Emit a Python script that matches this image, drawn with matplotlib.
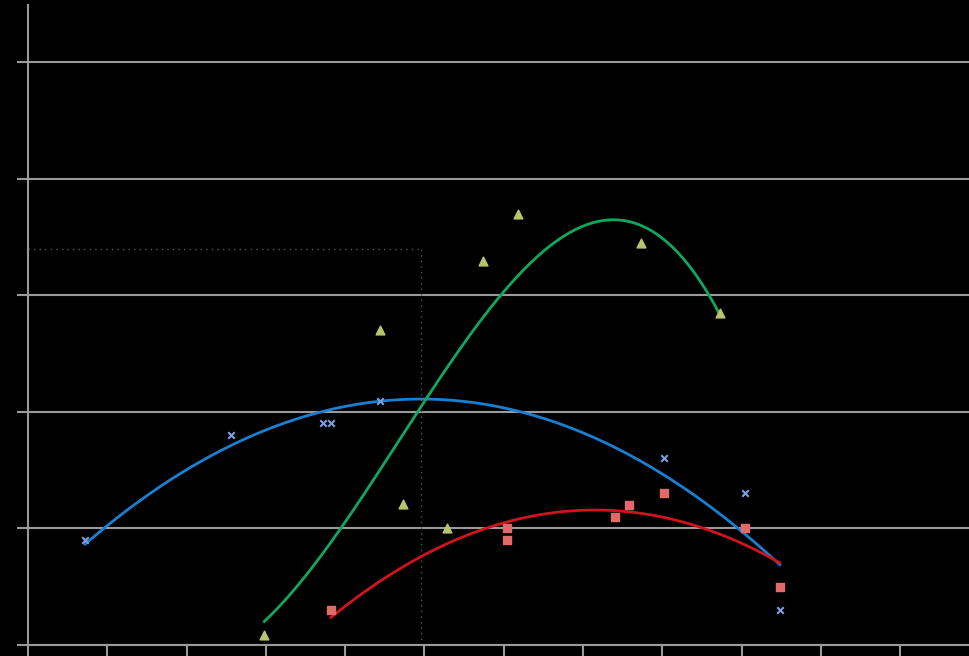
import numpy as np
import matplotlib
matplotlib.use("Agg")
import matplotlib.pyplot as plt

# series values (x in tick units, y in grid units)
blue_x = [0.72, 2.56, 3.72, 3.82, 4.44, 8.02, 9.04, 9.48]
blue_y = [0.90, 1.80, 1.90, 1.90, 2.09, 1.60, 1.30, 0.30]

red_x = [3.82, 6.04, 6.04, 7.40, 7.58, 8.02, 9.04, 9.48]
red_y = [0.30, 1.00, 0.90, 1.10, 1.20, 1.30, 1.00, 0.50]

green_x = [2.98, 4.44, 4.73, 5.28, 5.74, 6.18, 7.73, 8.73]
green_y = [0.09, 2.70, 1.21, 1.00, 3.29, 3.70, 3.45, 2.85]

# reference guide (dotted)
guide_x = 4.95
guide_y = 3.40

x_ticks = list(range(0, 12))
y_ticks = list(range(0, 6))


def trend(ax, xs, ys, deg, color):
	c = np.polyfit(xs, ys, deg)
	xx = np.linspace(min(xs), max(xs), 200)
	ax.plot(xx, np.polyval(c, xx), color=color, lw=2, zorder=3)


fig = plt.figure(figsize=(9.69, 6.56), dpi=100, facecolor="black")
ax = fig.add_axes([28/969, 11/656, 941/969, 640/656])
ax.set_facecolor("black")

ax.set_xlim(0, 941/79.3)
ax.set_ylim(0, 640/116.6)
ax.set_xticks(x_ticks)
ax.set_yticks(y_ticks)
ax.set_xticklabels([])
ax.set_yticklabels([])
ax.tick_params(colors="#9a9a9a", length=8, width=1.5)
ax.grid(axis="y", color="#9a9a9a", lw=1.5)
ax.set_axisbelow(True)
for s in ["top", "right"]:
	ax.spines[s].set_visible(False)
for s in ["left", "bottom"]:
	ax.spines[s].set_color("#9a9a9a")
	ax.spines[s].set_linewidth(1.5)

ax.plot([0, guide_x], [guide_y, guide_y], color="#555555", lw=1, ls=(0, (1, 3)))
ax.plot([guide_x, guide_x], [0, guide_y], color="#555555", lw=1, ls=(0, (1, 3)))

trend(ax, blue_x, blue_y, 2, "#1a7fd0")
trend(ax, red_x, red_y, 2, "#d0141e")
trend(ax, green_x, green_y, 3, "#10a860")

ax.scatter(blue_x, blue_y, marker="x", s=22, color="#7f9fe0", lw=1.5, zorder=4)
ax.scatter(red_x, red_y, marker="s", s=30, color="#e06a6a", zorder=4)
ax.scatter(green_x, green_y, marker="^", s=40, color="#b9c46e", zorder=4)

fig.savefig("out.png", facecolor="black")
